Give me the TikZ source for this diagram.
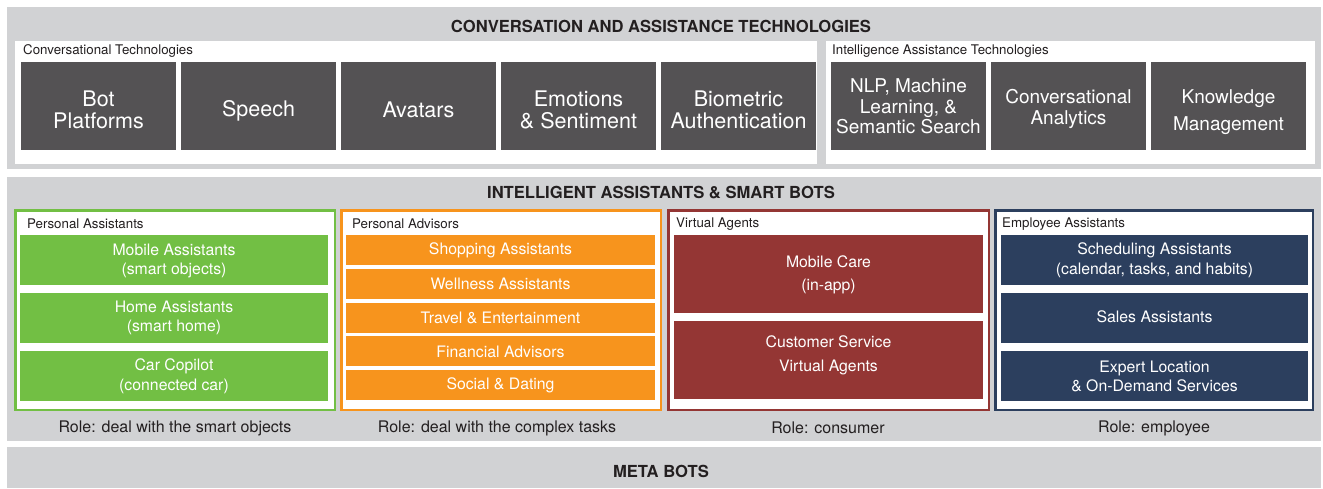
\documentclass[tikz,border=0pt]{standalone}
\usepackage{fontspec}
\setmainfont{TeX Gyre Heros}
\definecolor{bandgray}{HTML}{D1D2D4}
\definecolor{tilegray}{HTML}{545254}
\definecolor{paGreen}{HTML}{72BF44}
\definecolor{advOrange}{HTML}{F7941D}
\definecolor{vaRed}{HTML}{943634}
\definecolor{eaNavy}{HTML}{2C3F5E}
\definecolor{inkgray}{HTML}{231F20}
\tikzset{
	tiletext/.style={text=white, inner sep=0pt, align=center, font=\fontsize{21.5}{22}\selectfont},
	smalltile/.style={text=white, inner sep=0pt, align=center, font=\fontsize{19}{20.5}\selectfont},
	itemtext/.style={inner sep=0pt, align=center, text=white, font=\fontsize{15.8}{19.5}\selectfont},
	caption/.style={anchor=west, inner sep=0pt, text=inkgray, font=\fontsize{13.3}{15}\selectfont},
	heading/.style={text=inkgray, font=\bfseries\fontsize{16.6}{18}\selectfont},
	role/.style={text=inkgray, font=\fontsize{16}{18}\selectfont},
}

\begin{document}
\begin{tikzpicture}[x=1pt, y=-1pt]
		%%%%% START %%%%%
		\useasboundingbox[fill=white] (0, 0) rectangle (1323, 488);
		
		% conversation and assistance technologies
		\fill[bandgray] (7, 7) rectangle (1321, 169);
		\node[heading] (convtitle) at (661, 26) {CONVERSATION AND ASSISTANCE TECHNOLOGIES};
		\fill[white] (15, 41) rectangle (817, 164);
		\fill[white] (826, 41) rectangle (1315, 164);
		\node[caption] (convcap) at (23, 51) {Conversational Technologies};
		\node[caption] (intcap) at (832, 51) {Intelligence Assistance Technologies};
		
		\fill[tilegray] (21, 62) rectangle +(155, 88);
		\node[tiletext] (bot) at (98.5, 110) {Bot\\Platforms};
		\fill[tilegray] (181, 62) rectangle +(155, 88);
		\node[tiletext] (speech) at (258.5, 110.5) {Speech};
		\fill[tilegray] (341, 62) rectangle +(155, 88);
		\node[tiletext] (avatars) at (418.5, 109.5) {Avatars};
		\fill[tilegray] (501, 62) rectangle +(155, 88);
		\node[tiletext] (emotion) at (578.5, 110) {Emotions\\\& Sentiment};
		\fill[tilegray] (661, 62) rectangle +(155, 88);
		\node[tiletext] (biometric) at (738.5, 110) {Biometric\\Authentication};
		
		\fill[tilegray] (831, 62) rectangle +(155, 88);
		\node[smalltile] (nlp) at (908.5, 106.5) {NLP, Machine\\Learning, \&\\Semantic Search};
		\fill[tilegray] (991, 62) rectangle +(155, 88);
		\node[smalltile] (analytics) at (1068.5, 109) {Conversational\\Analytics};
		\fill[tilegray] (1151, 62) rectangle +(155, 88);
		\node[smalltile, font=\fontsize{19}{27}\selectfont] (knowledge) at (1228.5, 112.5) {Knowledge\\Management};
		
		% intelligent assistants and smart bots
		\fill[bandgray] (7, 177) rectangle (1321, 441);
		\node[heading] (iatitle) at (661, 193) {INTELLIGENT ASSISTANTS \& SMART BOTS};
		
		\draw[line width=2.5, draw=paGreen, fill=white] (15.25, 210.25) rectangle (334.75, 409.75);
		\node[caption] (pacap) at (27, 224) {Personal Assistants};
		\fill[paGreen] (20, 235) rectangle +(308, 50);
		\node[itemtext] (mobile) at (174, 261) {Mobile Assistants\\(smart objects)};
		\fill[paGreen] (20, 293) rectangle +(308, 50);
		\node[itemtext] (home) at (174, 318) {Home Assistants\\(smart home)};
		\fill[paGreen] (20, 351) rectangle +(308, 50);
		\node[itemtext] (car) at (174, 376.5) {Car Copilot\\(connected car)};
		\node[role] (parole) at (175, 428) {Role: deal with the smart objects};
		
		\draw[line width=2.5, draw=advOrange, fill=white] (341.25, 210.25) rectangle (660.75, 409.75);
		\node[caption] (advcap) at (352, 224) {Personal Advisors};
		\fill[advOrange] (346, 235) rectangle +(309, 30);
		\node[itemtext] (shopping) at (500.5, 250.5) {Shopping Assistants};
		\fill[advOrange] (346, 268.75) rectangle +(309, 30);
		\node[itemtext] (wellness) at (500.5, 284.25) {Wellness Assistants};
		\fill[advOrange] (346, 302.5) rectangle +(309, 30);
		\node[itemtext] (travel) at (500.5, 318) {Travel \& Entertainment};
		\fill[advOrange] (346, 336.25) rectangle +(309, 30);
		\node[itemtext] (finance) at (500.5, 351.75) {Financial Advisors};
		\fill[advOrange] (346, 370) rectangle +(309, 30);
		\node[itemtext] (social) at (500.5, 385.5) {Social \& Dating};
		\node[role] (advrole) at (497, 428) {Role: deal with the complex tasks};
		
		\draw[line width=2.5, draw=vaRed, fill=white] (668.25, 210.25) rectangle (988.75, 409.75);
		\node[caption] (vacap) at (676, 224) {Virtual Agents};
		\fill[vaRed] (674, 235) rectangle +(309, 78);
		\node[itemtext, font=\fontsize{15.8}{23.5}\selectfont] (care) at (828.5, 275) {Mobile Care\\(in-app)};
		\fill[vaRed] (674, 321) rectangle +(309, 78);
		\node[itemtext, font=\fontsize{15.8}{23.5}\selectfont] (service) at (828.5, 355.5) {Customer Service\\Virtual Agents};
		\node[role] (varole) at (828, 428) {Role: consumer};
		
		\draw[line width=2.5, draw=eaNavy, fill=white] (995.25, 210.25) rectangle (1312.75, 409.75);
		\node[caption] (eacap) at (1002, 224) {Employee Assistants};
		\fill[eaNavy] (1001, 235) rectangle +(307, 50);
		\node[itemtext] (scheduling) at (1154.5, 260.5) {Scheduling Assistants\\(calendar, tasks, and habits)};
		\fill[eaNavy] (1001, 293) rectangle +(307, 50);
		\node[itemtext] (sales) at (1154.5, 316.5) {Sales Assistants};
		\fill[eaNavy] (1001, 351) rectangle +(307, 50);
		\node[itemtext] (expert) at (1154.5, 376.5) {Expert Location\\\& On-Demand Services};
		\node[role] (earole) at (1154, 428) {Role: employee};
		
		% meta bots
		\fill[bandgray] (7, 447) rectangle (1321, 488);
		\node[heading] (metatitle) at (661, 471) {META BOTS};
		%%%%% END %%%%%
\end{tikzpicture}
\end{document}
